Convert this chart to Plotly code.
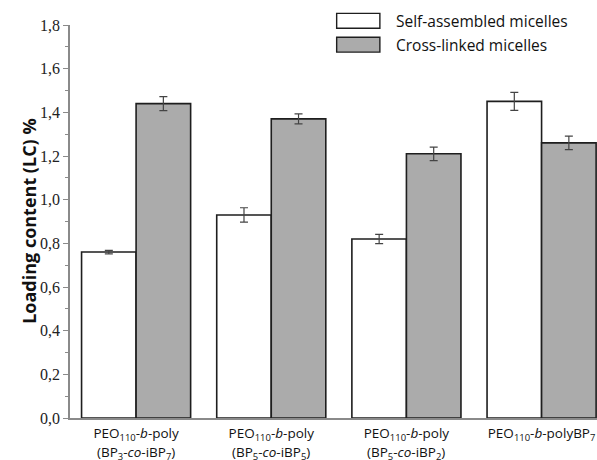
import plotly.graph_objects as go

label_line1 = [
    "PEO<sub>110</sub>-<i>b</i>-poly",
    "PEO<sub>110</sub>-<i>b</i>-poly",
    "PEO<sub>110</sub>-<i>b</i>-poly",
    "PEO<sub>110</sub>-<i>b</i>-polyBP<sub>7</sub>",
]
label_line2 = [
    "(BP<sub>3</sub>-<i>co</i>-iBP<sub>7</sub>)",
    "(BP<sub>5</sub>-<i>co</i>-iBP<sub>5</sub>)",
    "(BP<sub>5</sub>-<i>co</i>-iBP<sub>2</sub>)",
    "",
]
series_names = ["Self-assembled micelles", "Cross-linked micelles"]
self_assembled = [0.76, 0.93, 0.82, 1.45]
self_assembled_err = [0.008, 0.033, 0.021, 0.041]
cross_linked = [1.44, 1.37, 1.21, 1.26]
cross_linked_err = [0.032, 0.023, 0.031, 0.031]
y_ticks = [0.0, 0.2, 0.4, 0.6, 0.8, 1.0, 1.2, 1.4, 1.6, 1.8]
y_title = "Loading content (LC) %"

colors = ["#ffffff", "#ababab"]
x_idx = list(range(len(label_line1)))

fig = go.Figure()
for name, vals, errs, col in [
    (series_names[0], self_assembled, self_assembled_err, colors[0]),
    (series_names[1], cross_linked, cross_linked_err, colors[1]),
]:
    fig.add_trace(go.Bar(
        x=x_idx, y=vals, name=name,
        marker=dict(color=col, line=dict(color="#1e1e1e", width=1.6)),
        error_y=dict(type="data", array=errs, visible=True,
                     color="#444444", thickness=1.2, width=4),
        showlegend=False, hoverinfo="skip",
    ))

# second line of category labels
for xi, txt in zip(x_idx, label_line2):
    if txt:
        fig.add_annotation(x=xi, xref="x", yref="paper", y=-0.089, text=txt,
                           showarrow=False, xanchor="center", yanchor="middle",
                           font=dict(family="Open Sans", size=13.5, color="#111111"))

# custom legend boxes
leg_y = [1.0107, 0.950]
for i, (name, col) in enumerate(zip(series_names, colors)):
    fig.add_shape(type="rect", xref="paper", yref="paper",
                  x0=0.506, x1=0.588, y0=leg_y[i] - 0.019, y1=leg_y[i] + 0.019,
                  fillcolor=col, line=dict(color="#1e1e1e", width=1.4))
    fig.add_annotation(xref="paper", yref="paper", x=0.615, y=leg_y[i],
                       text=name, showarrow=False, xanchor="left", yanchor="middle",
                       font=dict(family="Open Sans", size=15.5, color="#111111"))

# y-axis title
fig.add_annotation(xref="paper", yref="paper", x=-0.079, y=0.5, text="<b>" + y_title + "</b>",
                   textangle=-90, showarrow=False, xanchor="center", yanchor="middle",
                   font=dict(family="Open Sans", size=18, color="#111111"))

fig.update_layout(
    width=597, height=460,
    margin=dict(l=70, r=0, t=25, b=42),
    paper_bgcolor="white", plot_bgcolor="white",
    barmode="group", bargap=0.193, bargroupgap=0,
    separators=", ",
    font=dict(family="Liberation Serif", color="#222222"),
    xaxis=dict(
        range=[-0.489, 3.41],
        tickmode="array", tickvals=x_idx, ticktext=label_line1,
        ticks="", showgrid=False, zeroline=False,
        showline=True, linecolor="#8a8a8a", linewidth=1.5,
        tickfont=dict(family="Open Sans", size=13.5, color="#111111"),
        ticklabelstandoff=2,
        automargin=False,
    ),
    yaxis=dict(
        range=[0, 1.8],
        tickmode="array", tickvals=y_ticks, tickformat=".1f",
        ticks="outside", ticklen=5, tickcolor="#8a8a8a", tickwidth=1.2,
        minor=dict(dtick=0.1, ticks="outside", ticklen=3, tickcolor="#8a8a8a", tickwidth=1),
        showgrid=False, zeroline=False,
        showline=True, linecolor="#8a8a8a", linewidth=1.5,
        tickfont=dict(family="Liberation Serif", size=16, color="#222222"),
        automargin=False,
    ),
)

fig.write_html("out.html", config={"displayModeBar": False},
               post_script="document.body.style.margin='0';document.body.style.overflow='hidden';")
